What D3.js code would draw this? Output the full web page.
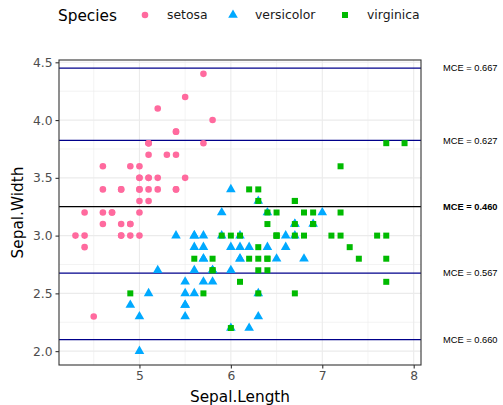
<!DOCTYPE html>
<html>
<head>
<meta charset="utf-8">
<script src="https://cdn.jsdelivr.net/npm/d3@7"></script>
<style>
  body { margin: 0; background: #fff; }
  svg { display: block; }
  text { font-family: "DejaVu Sans", sans-serif; }
</style>
</head>
<body>
<svg id="chart"></svg>
<script>
// iris sepal measurements, one pair of arrays per species
const setosaLength = [5.1,4.9,4.7,4.6,5.0,5.4,4.6,5.0,4.4,4.9,5.4,4.8,4.8,4.3,5.8,5.7,5.4,5.1,5.7,5.1,5.4,5.1,4.6,5.1,4.8,5.0,5.0,5.2,5.2,4.7,4.8,5.4,5.2,5.5,4.9,5.0,5.5,4.9,4.4,5.1,5.0,4.5,4.4,5.0,5.1,4.8,5.1,4.6,5.3,5.0];
const setosaWidth  = [3.5,3.0,3.2,3.1,3.6,3.9,3.4,3.4,2.9,3.1,3.7,3.4,3.0,3.0,4.0,4.4,3.9,3.5,3.8,3.8,3.4,3.7,3.6,3.3,3.4,3.0,3.4,3.5,3.4,3.2,3.1,3.4,4.1,4.2,3.1,3.2,3.5,3.6,3.0,3.4,3.5,2.3,3.2,3.5,3.8,3.0,3.8,3.2,3.7,3.3];
const versicolorLength = [7.0,6.4,6.9,5.5,6.5,5.7,6.3,4.9,6.6,5.2,5.0,5.9,6.0,6.1,5.6,6.7,5.6,5.8,6.2,5.6,5.9,6.1,6.3,6.1,6.4,6.6,6.8,6.7,6.0,5.7,5.5,5.5,5.8,6.0,5.4,6.0,6.7,6.3,5.6,5.5,5.5,6.1,5.8,5.0,5.6,5.7,5.7,6.2,5.1,5.7];
const versicolorWidth  = [3.2,3.2,3.1,2.3,2.8,2.8,3.3,2.4,2.9,2.7,2.0,3.0,2.2,2.9,2.9,3.1,3.0,2.7,2.2,2.5,3.2,2.8,2.5,2.8,2.9,3.0,2.8,3.0,2.9,2.6,2.4,2.4,2.7,2.7,3.0,3.4,3.1,2.3,3.0,2.5,2.6,3.0,2.6,2.3,2.7,3.0,2.9,2.9,2.5,2.8];
const virginicaLength = [6.3,5.8,7.1,6.3,6.5,7.6,4.9,7.3,6.7,7.2,6.5,6.4,6.8,5.7,5.8,6.4,6.5,7.7,7.7,6.0,6.9,5.6,7.7,6.3,6.7,7.2,6.2,6.1,6.4,7.2,7.4,7.9,6.4,6.3,6.1,7.7,6.3,6.4,6.0,6.9,6.7,6.9,5.8,6.8,6.7,6.7,6.3,6.5,6.2,5.9];
const virginicaWidth  = [3.3,2.7,3.0,2.9,3.0,3.0,2.5,2.9,2.5,3.6,3.2,2.7,3.0,2.5,2.8,3.2,3.0,3.8,2.6,2.2,3.2,2.8,2.8,2.7,3.3,3.2,2.8,3.0,2.8,3.0,2.8,3.8,2.8,2.8,2.6,3.0,3.4,3.1,3.0,3.1,3.1,3.1,2.7,3.2,3.3,3.0,2.5,3.0,3.4,3.0];

const speciesNames = ["setosa", "versicolor", "virginica"];

// split thresholds on Sepal.Width and their misclassification error
const splitValues = [4.45, 3.825, 3.25, 2.675, 2.1];
const splitMCE = ["0.667", "0.627", "0.460", "0.567", "0.660"];
const bestSplit = 3.25;

const xTicks = [5, 6, 7, 8];
const yTicks = [2.0, 2.5, 3.0, 3.5, 4.0, 4.5];
const xMinor = [4.5, 5.5, 6.5, 7.5];
const yMinor = [2.25, 2.75, 3.25, 3.75, 4.25];

const W = 503, H = 405;
const margin = { top: 60, right: 82, bottom: 40, left: 59 };

const svg = d3.select("#chart").attr("width", W).attr("height", H);

const x = d3.scaleLinear()
  .domain([4.3 - 0.18, 7.9 + 0.18])
  .range([margin.left, W - margin.right]);

const y = d3.scaleLinear()
  .domain([2.0 - 0.12, 4.4 + 0.12])
  .range([H - margin.bottom, margin.top]);

const color = d3.scaleOrdinal()
  .domain(speciesNames)
  .range(["#FF6A9E", "#00A9FF", "#00BA00"]);

const shape = d3.scaleOrdinal()
  .domain(speciesNames)
  .range([d3.symbolCircle, d3.symbolTriangle, d3.symbolSquare]);

const symbolSize = { setosa: 34, versicolor: 40, virginica: 36 };

const points = [];
[[setosaLength, setosaWidth], [versicolorLength, versicolorWidth], [virginicaLength, virginicaWidth]]
  .forEach(([len, wid], k) => {
    len.forEach((v, i) => points.push({ len: v, wid: wid[i], species: speciesNames[k] }));
  });

// grid
const grid = svg.append("g");
grid.selectAll(".xminor").data(xMinor).join("line")
  .attr("x1", d => x(d)).attr("x2", d => x(d))
  .attr("y1", y.range()[0]).attr("y2", y.range()[1])
  .attr("stroke", "#EBEBEB").attr("stroke-width", 0.6);
grid.selectAll(".yminor").data(yMinor).join("line")
  .attr("y1", d => y(d)).attr("y2", d => y(d))
  .attr("x1", x.range()[0]).attr("x2", x.range()[1])
  .attr("stroke", "#EBEBEB").attr("stroke-width", 0.6);
grid.selectAll(".xmajor").data(xTicks).join("line")
  .attr("x1", d => x(d)).attr("x2", d => x(d))
  .attr("y1", y.range()[0]).attr("y2", y.range()[1])
  .attr("stroke", "#EBEBEB").attr("stroke-width", 1.1);
grid.selectAll(".ymajor").data(yTicks).join("line")
  .attr("y1", d => y(d)).attr("y2", d => y(d))
  .attr("x1", x.range()[0]).attr("x2", x.range()[1])
  .attr("stroke", "#EBEBEB").attr("stroke-width", 1.1);

// split lines
svg.selectAll(".split").data(splitValues).join("line")
  .attr("x1", x.range()[0]).attr("x2", x.range()[1])
  .attr("y1", d => y(d)).attr("y2", d => y(d))
  .attr("stroke", d => d === bestSplit ? "#000000" : "#00008B")
  .attr("stroke-width", 1.3);

// points
svg.selectAll(".pt").data(points).join("path")
  .attr("transform", d => `translate(${x(d.len)},${y(d.wid)})`)
  .attr("d", d => d3.symbol(shape(d.species), symbolSize[d.species])())
  .attr("fill", d => color(d.species));

// panel border
svg.append("rect")
  .attr("x", x.range()[0]).attr("y", y.range()[1])
  .attr("width", x.range()[1] - x.range()[0])
  .attr("height", y.range()[0] - y.range()[1])
  .attr("fill", "none").attr("stroke", "#333333").attr("stroke-width", 1.1);

// axes
const xAxis = svg.append("g")
  .attr("transform", `translate(0,${y.range()[0]})`)
  .call(d3.axisBottom(x).tickValues(xTicks).tickFormat(d3.format("d")).tickSize(3.5).tickPadding(3));
const yAxis = svg.append("g")
  .attr("transform", `translate(${x.range()[0]},0)`)
  .call(d3.axisLeft(y).tickValues(yTicks).tickFormat(d3.format(".1f")).tickSize(3.5).tickPadding(3));
[xAxis, yAxis].forEach(a => {
  a.select(".domain").remove();
  a.selectAll(".tick line").attr("stroke", "#333333").attr("stroke-width", 1.1);
  a.selectAll(".tick text").attr("fill", "#4D4D4D")
    .style("font-family", "DejaVu Sans, sans-serif").style("font-size", "12.3px");
});

// MCE labels
svg.selectAll(".mce").data(splitValues).join("text")
  .attr("x", 443).attr("y", d => y(d))
  .attr("dy", "0.35em")
  .style("font-family", "Liberation Sans, Arial, sans-serif")
  .style("font-size", "9.3px")
  .style("font-weight", d => d === bestSplit ? "bold" : "normal")
  .text((d, i) => `MCE = ${splitMCE[i]}`);

// axis titles
svg.append("text")
  .attr("x", (x.range()[0] + x.range()[1]) / 2).attr("y", 402)
  .attr("text-anchor", "middle").style("font-size", "15.3px")
  .text("Sepal.Length");
svg.append("text")
  .attr("transform", `translate(23,${(y.range()[0] + y.range()[1]) / 2}) rotate(-90)`)
  .attr("text-anchor", "middle").style("font-size", "15.3px")
  .text("Sepal.Width");

// legend
const legend = svg.append("g");
legend.append("text").attr("x", 58).attr("y", 21)
  .style("font-size", "15.3px").text("Species");
const legendX = [145, 233, 345];
const legendItems = legend.selectAll(".item").data(speciesNames).join("g")
  .attr("transform", (d, i) => `translate(${legendX[i]},15)`);
legendItems.append("path")
  .attr("d", d => d3.symbol(shape(d), symbolSize[d])())
  .attr("fill", d => color(d));
legendItems.append("text")
  .attr("x", 22).attr("y", 0).attr("dy", "0.35em")
  .style("font-size", "12.4px").attr("fill", "#1A1A1A")
  .text(d => d);
</script>
</body>
</html>
